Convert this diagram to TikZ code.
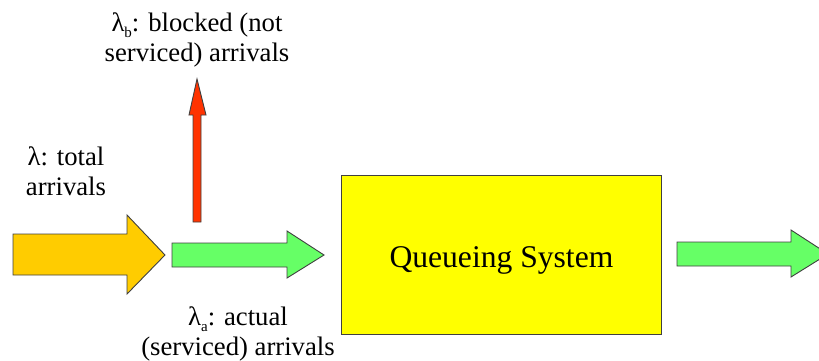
\documentclass[tikz,border=0pt]{standalone}
\usepackage{fontspec}
\setmainfont{Liberation Serif}
\definecolor{gold}{HTML}{FFCC00}
\definecolor{lgreen}{HTML}{66FF66}
\definecolor{redorange}{HTML}{FF3300}
\definecolor{yel}{HTML}{FFFF00}
\definecolor{edge}{HTML}{404040}
\newcommand{\lsub}[1]{\raisebox{-6pt}{\rmfamily\fontsize{15}{15}\selectfont #1}}
\tikzset{
  blockarrow/.style={draw=edge, line width=0.9pt, line join=miter},
  lbl/.style={align=center, inner sep=0pt, font=\rmfamily\fontsize{26.7}{30}\selectfont},
  qbox/.style={draw=edge, line width=0.9pt, fill=yel, inner sep=0pt, text height=25pt, text depth=0pt, font=\rmfamily\fontsize{31.6}{36}\selectfont}
}
\begin{document}
\begin{tikzpicture}[x=1pt, y=-1pt]
\useasboundingbox (0,0) rectangle (819,360);
\clip (0,0) rectangle (819,360);
% total arrivals arrow
\draw[blockarrow, fill=gold] (13,234) -- (127,234) -- (127,215) -- (165,255) -- (127,294) -- (127,275) -- (13,275) -- cycle;
% actual arrivals arrow
\draw[blockarrow, fill=lgreen] (172,243) -- (287,243) -- (287,231) -- (324,255) -- (287,278) -- (287,267) -- (172,267) -- cycle;
% blocked arrow
\draw[blockarrow, fill=redorange] (193,222) -- (193,115) -- (189,115) -- (197,79) -- (206,115) -- (201,115) -- (201,222) -- cycle;
% queueing system
\node[qbox, minimum width=320, minimum height=159, anchor=north west] (qs) at (341,175) {Queueing System};
% output arrow
\draw[blockarrow, fill=lgreen] (677,242) -- (791,242) -- (791,230) -- (828,254) -- (791,277) -- (791,266) -- (677,266) -- cycle;
% labels
\node[lbl, anchor=base] (ltot) at (66,195) {λ: total\\arrivals};
\node[lbl, anchor=base] (lblk) at (197,61) {λ\lsub{b}: blocked (not\\serviced) arrivals};
\node[lbl, anchor=base] (lact) at (238,355) {λ\lsub{a}: actual\\(serviced) arrivals};
\end{tikzpicture}
\end{document}
